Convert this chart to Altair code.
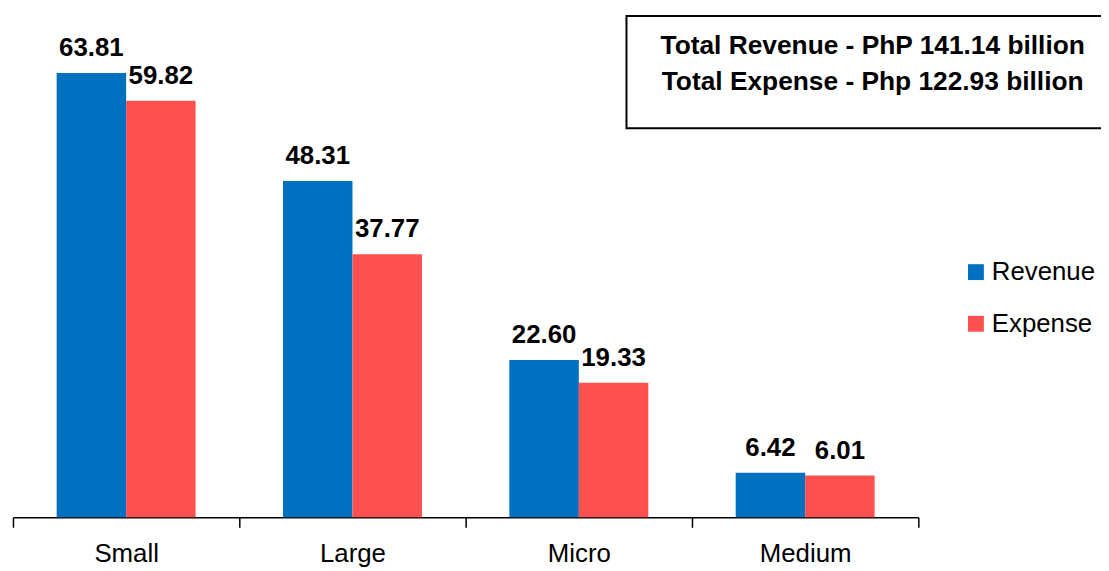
import altair as alt
import pandas as pd

categories = ["Small", "Large", "Micro", "Medium"]
series = ["Revenue", "Expense"]
revenue = [63.81, 48.31, 22.60, 6.42]
expense = [59.82, 37.77, 19.33, 6.01]
colors = ["#0070C0", "#FF5050"]
box_lines = ["Total Revenue - PhP 141.14 billion", "Total Expense - Php 122.93 billion"]

rows = []
for c, r, e in zip(categories, revenue, expense):
    rows.append({"category": c, "series": "Revenue", "value": r})
    rows.append({"category": c, "series": "Expense", "value": e})
df = pd.DataFrame(rows)
box_df = pd.DataFrame({"line": box_lines, "idx": [0, 1]})

FONT = "Liberation Sans"

x_enc = alt.X("category:N", sort=categories, title=None,
              scale=alt.Scale(paddingInner=0, paddingOuter=0),
              axis=alt.Axis(labelAngle=0, labelFont=FONT, labelFontSize=26, labelColor="black",
                            tickBand="extent", tickSize=10, tickColor="black", tickWidth=1.5,
                            domainColor="black", domainWidth=1.5, labelPadding=13, grid=False))
xo_enc = alt.XOffset("series:N", sort=series, scale=alt.Scale(paddingOuter=0.629, paddingInner=0))
y_enc = alt.Y("value:Q", scale=alt.Scale(domain=[0, 72], nice=False), axis=None)

bars = alt.Chart(df).mark_bar().encode(
    x=x_enc, xOffset=xo_enc, y=y_enc,
    color=alt.Color("series:N", sort=series, scale=alt.Scale(domain=series, range=colors),
                    legend=alt.Legend(title=None, orient="none", legendX=957, legendY=245,
                                      symbolType="square", symbolSize=256, symbolStrokeWidth=0,
                                      labelFont=FONT, labelFontSize=26, labelColor="black",
                                      rowPadding=26, labelOffset=3, padding=0)),
)

labels = alt.Chart(df).mark_text(font=FONT, fontSize=26, fontWeight="bold", color="black",
                                 baseline="alphabetic", dy=-17).encode(
    x=alt.X("category:N", sort=categories), xOffset=alt.XOffset("series:N", sort=series),
    y="value:Q", text=alt.Text("value:Q", format=".2f"),
)

box = alt.Chart(box_df).transform_filter("datum.idx == 0").mark_rect(
    fill="white", stroke="black", strokeWidth=2).encode(
    x=alt.value(618), x2=alt.value(1110), y=alt.value(0), y2=alt.value(113))

box_text1 = alt.Chart(box_df).transform_filter("datum.idx == 0").mark_text(
    font=FONT, fontSize=26.5, fontWeight="bold", color="black",
    baseline="middle", align="center").encode(
    x=alt.value(866), y=alt.value(30), text="line:N")

box_text2 = alt.Chart(box_df).transform_filter("datum.idx == 1").mark_text(
    font=FONT, fontSize=26.5, fontWeight="bold", color="black",
    baseline="middle", align="center").encode(
    x=alt.value(866), y=alt.value(67), text="line:N")

chart = alt.layer(bars, labels, box, box_text1, box_text2).properties(
    width=912, height=505,
    autosize=alt.AutoSizeParams(type="none"),
    padding={"left": 5, "top": 6, "right": 184, "bottom": 52},
).configure_view(stroke=None)

chart.save("out.html", embed_options={"renderer": "svg", "actions": False})
